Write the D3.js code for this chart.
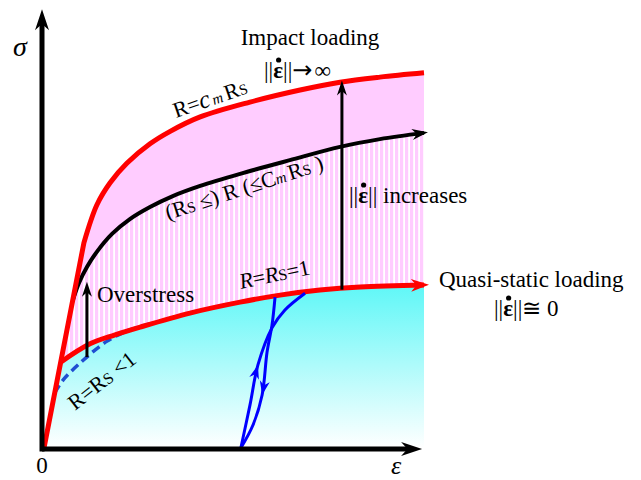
<!DOCTYPE html>
<html>
<head>
<meta charset="utf-8">
<script src="https://cdn.jsdelivr.net/npm/d3@7"></script>
<style>
body { margin: 0; background: #fff; }
text { font-family: "Liberation Serif", "Times New Roman", serif; fill: #000; }
</style>
</head>
<body>
<svg id="chart" width="641" height="480"></svg>
<script>
'use strict';

// curves in (strain, stress) units
const elasticLine = [[0, 0], [1.05, 5.26]];
const upperCurve = [[1.05, 5.26], [1.39, 6.23], [1.74, 6.80], [2.18, 7.30], [2.79, 7.80], [3.32, 8.12],
	[4.11, 8.49], [5.42, 8.87], [6.74, 9.18], [7.79, 9.38], [8.84, 9.51], [10, 9.62]];
const middleCurve = [[0.76, 3.79], [0.92, 4.23], [1.13, 4.64], [1.39, 5.03], [1.79, 5.49], [2.26, 5.87],
	[2.79, 6.18], [3.39, 6.46], [4.11, 6.72], [5.16, 7.03], [6.47, 7.38], [7.79, 7.72], [8.84, 7.92], [10, 8.08]];
const lowerCurve = [[0.44, 2.2], [1.21, 2.67], [1.87, 2.9], [2.53, 3.10], [3.84, 3.46], [5.16, 3.74],
	[6.21, 3.92], [7.26, 4.05], [8.32, 4.13], [10, 4.18]];
const dashedCurve = [[0.28, 1.41], [0.5, 1.74], [0.95, 2.18], [1.66, 2.74], [2.26, 3.03], [2.79, 3.18]];
const unloadCurve = [[6.08, 3.87], [6.0, 3.15], [5.87, 2.46], [5.74, 1.36], [5.5, 0.59], [5.18, 0]];
const reloadCurve = [[5.18, 0], [5.42, 1.10], [5.63, 2.13], [6.0, 3.08], [6.34, 3.54], [6.87, 3.97]];
// [strain, stress from, stress to]
const riseArrows = [[7.84, 4.06, 9.42], [1.13, 2.33, 4.26]];
const axisEnd = [9.95, 11.25];

const svg = d3.select('#chart');
const x = d3.scaleLinear().domain([0, 10]).range([44, 424]);
const y = d3.scaleLinear().domain([0, 10]).range([448, 58]);

const smooth = d3.line().x(d => x(d[0])).y(d => y(d[1])).curve(d3.curveCatmullRom.alpha(0.5));
const straight = d3.line().x(d => x(d[0])).y(d => y(d[1]));
const join = (a, b) => a + b.replace(/^M/, 'L');
const rev = a => a.slice().reverse();

// defs
const defs = svg.append('defs');
const grad = defs.append('linearGradient').attr('id', 'cyan')
	.attr('gradientUnits', 'userSpaceOnUse')
	.attr('x1', 0).attr('x2', 0).attr('y1', y(4.2)).attr('y2', y(0));
grad.append('stop').attr('offset', 0).attr('stop-color', '#5ef7f7');
grad.append('stop').attr('offset', 1).attr('stop-color', '#ffffff');
const pat = defs.append('pattern').attr('id', 'stripes')
	.attr('patternUnits', 'userSpaceOnUse').attr('width', 5).attr('height', 10);
pat.append('rect').attr('width', 5).attr('height', 10).attr('fill', '#ffccff');
pat.append('rect').attr('x', 3.2).attr('width', 1.8).attr('height', 10).attr('fill', '#ffffff');

// fills
const elastic = (s0, s1) => [[elasticLine[1][0] * s0 / elasticLine[1][1], s0], [elasticLine[1][0] * s1 / elasticLine[1][1], s1]];
svg.append('path')
	.attr('d', join(join(straight([[0, 0], lowerCurve[0]]), smooth(lowerCurve)), straight([[10, 4.18], [10, 0]])) + 'Z')
	.attr('fill', 'url(#cyan)');
svg.append('path')
	.attr('d', join(join(join(straight(elastic(lowerCurve[0][1], upperCurve[0][1])), smooth(upperCurve)),
		straight([upperCurve[upperCurve.length - 1], lowerCurve[lowerCurve.length - 1]])), smooth(rev(lowerCurve))) + 'Z')
	.attr('fill', 'url(#stripes)');
svg.append('path')
	.attr('d', join(join(join(straight(elastic(middleCurve[0][1], upperCurve[0][1])), smooth(upperCurve)),
		straight([upperCurve[upperCurve.length - 1], middleCurve[middleCurve.length - 1]])), smooth(rev(middleCurve))) + 'Z')
	.attr('fill', '#ffccff');

// curves
svg.append('path').attr('d', smooth(dashedCurve))
	.attr('fill', 'none').attr('stroke', '#1f4fd2').attr('stroke-width', 3.5).attr('stroke-dasharray', '9,5');
svg.append('path').attr('d', smooth(lowerCurve))
	.attr('fill', 'none').attr('stroke', '#ff0000').attr('stroke-width', 5);
[unloadCurve, reloadCurve].forEach(c => {
	svg.append('path').attr('d', smooth(c))
		.attr('fill', 'none').attr('stroke', '#0000ff').attr('stroke-width', 3);
});
svg.append('path').attr('d', smooth(middleCurve))
	.attr('fill', 'none').attr('stroke', '#000').attr('stroke-width', 4);
svg.append('path').attr('d', join(straight(elasticLine), smooth(upperCurve)))
	.attr('fill', 'none').attr('stroke', '#ff0000').attr('stroke-width', 5).attr('stroke-linejoin', 'round');

function head(tx, ty, ang, len, w, color) {
	svg.append('path')
		.attr('d', `M0,0L${-len},${-w / 2}L${-len * 0.7},0L${-len},${w / 2}Z`)
		.attr('transform', `translate(${tx},${ty}) rotate(${ang * 180 / Math.PI})`)
		.attr('fill', color);
}
function endHead(c, len, w, color, ext) {
	let a = c[c.length - 2], b = c[c.length - 1];
	let ang = Math.atan2(y(b[1]) - y(a[1]), x(b[0]) - x(a[0]));
	head(x(b[0]) + ext * Math.cos(ang), y(b[1]) + ext * Math.sin(ang), ang, len, w, color);
}
function midHead(c, i, len, w, color) {
	let a = c[i - 1], b = c[i + 1];
	let ang = Math.atan2(y(b[1]) - y(a[1]), x(b[0]) - x(a[0]));
	head(x(c[i][0]), y(c[i][1]), ang, len, w, color);
}
endHead(middleCurve, 16, 11, '#000', 4);
endHead(lowerCurve, 18, 13, '#ff0000', 5);
midHead(reloadCurve, 2, 14, 10, '#0000ff');
midHead(unloadCurve, 3, 14, 10, '#0000ff');

riseArrows.forEach(([e, s0, s1]) => {
	svg.append('line').attr('x1', x(e)).attr('x2', x(e)).attr('y1', y(s0)).attr('y2', y(s1) + 8)
		.attr('stroke', '#000').attr('stroke-width', 3);
	head(x(e), y(s1), -Math.PI / 2, 15, 10, '#000');
});

// axes
svg.append('line').attr('x1', x(0) - 2).attr('x2', x(axisEnd[0]) - 10).attr('y1', y(0) + 1).attr('y2', y(0) + 1)
	.attr('stroke', '#000').attr('stroke-width', 5);
svg.append('line').attr('x1', x(0) - 2).attr('x2', x(0) - 2).attr('y1', y(0) + 3.5).attr('y2', y(axisEnd[1]) + 10)
	.attr('stroke', '#000').attr('stroke-width', 5);
head(x(axisEnd[0]), y(0) + 1, 0, 21, 14, '#000');
head(x(0) - 2, y(axisEnd[1]), -Math.PI / 2, 21, 14, '#000');

// labels
function txt(px, py, size) {
	return svg.append('text').attr('x', px).attr('y', py).style('font-size', size + 'px');
}
function norm(px, py, rest, restFont) {
	const t = txt(px, py, 23);
	t.append('tspan').text('||');
	t.append('tspan').style('font-weight', 'bold').text('ε');
	t.append('tspan').text('||');
	const r = t.append('tspan').text(rest);
	if (restFont) r.style('font-family', restFont);
	const ext = t.node().getExtentOfChar(2);
	svg.append('circle').attr('cx', ext.x + ext.width / 2 + 0.5).attr('cy', py - 18).attr('r', 2.6);
	return t;
}

txt(310, 45, 23).attr('text-anchor', 'middle').text('Impact loading');
let n1 = norm(264, 78, '');
n1.append('tspan').style('font-family', '"DejaVu Sans"').style('font-size', '24px').text('\u2192');
n1.append('tspan').attr('dx', 2).text('\u221e');
norm(349, 203, ' increases');
txt(97, 302, 23).text('Overstress');
txt(439, 287, 23).text('Quasi-static loading');
norm(494, 316, '\u2245 0');
txt(42, 473, 23).attr('text-anchor', 'middle').text('0');
txt(391, 474, 26).style('font-style', 'italic').text('ε');
txt(13, 56, 28).style('font-style', 'italic').text('σ');

function rotated(px, py, deg) {
	return svg.append('text').attr('transform', `translate(${px},${py}) rotate(${deg})`).style('font-size', '22px');
}
let t1 = rotated(176, 118, -19);
t1.append('tspan').text('R=');
t1.append('tspan').style('font-style', 'italic').style('font-size', '25px').text('c');
t1.append('tspan').style('font-style', 'italic').style('font-size', '15px').attr('dx', 2).text('m');
t1.append('tspan').attr('dx', 3).text('R');
t1.append('tspan').style('font-size', '15px').text('S');

let t2 = rotated(168, 220, -18);
t2.append('tspan').text('(R');
t2.append('tspan').style('font-size', '15px').text('S');
t2.append('tspan').text(' \u2264) R (\u2264C');
t2.append('tspan').style('font-style', 'italic').style('font-size', '15px').text('m');
t2.append('tspan').attr('dx', 3).text('R');
t2.append('tspan').style('font-size', '15px').text('S');
t2.append('tspan').text(' )');

let t3 = rotated(241, 289, -12);
t3.append('tspan').style('font-style', 'italic').text('R');
t3.append('tspan').text('=');
t3.append('tspan').style('font-style', 'italic').text('R');
t3.append('tspan').style('font-size', '16px').text('S');
t3.append('tspan').text('=1');

let t4 = rotated(75, 411, -38);
t4.append('tspan').text('R=R');
t4.append('tspan').style('font-size', '16px').text('S');
t4.append('tspan').text(' <1');
</script>
</body>
</html>
